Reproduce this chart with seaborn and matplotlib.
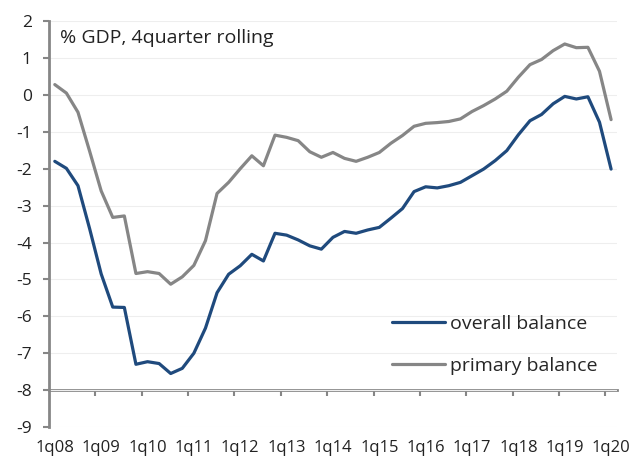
import numpy as np
import pandas as pd
import matplotlib
matplotlib.use("Agg")
import matplotlib.pyplot as plt
import seaborn as sns

# ---- data ----
year_labels = ["1q08", "1q09", "1q10", "1q11", "1q12", "1q13", "1q14",
               "1q15", "1q16", "1q17", "1q18", "1q19", "1q20"]
overall = [-1.80, -1.99, -2.46, -3.62, -4.85, -5.75, -5.76, -7.30, -7.23, -7.28,
           -7.55, -7.41, -7.00, -6.32, -5.36, -4.86, -4.63, -4.32, -4.50, -3.75,
           -3.80, -3.93, -4.09, -4.18, -3.86, -3.70, -3.75, -3.66, -3.59, -3.34,
           -3.08, -2.62, -2.49, -2.52, -2.46, -2.37, -2.19, -2.01, -1.78, -1.51,
           -1.08, -0.70, -0.53, -0.24, -0.04, -0.11, -0.05, -0.74, -2.01]
primary = [0.28, 0.05, -0.47, -1.52, -2.60, -3.32, -3.28, -4.84, -4.79, -4.84,
           -5.13, -4.93, -4.62, -3.95, -2.67, -2.37, -2.00, -1.65, -1.92, -1.09,
           -1.15, -1.24, -1.54, -1.69, -1.56, -1.72, -1.80, -1.69, -1.56, -1.31,
           -1.10, -0.85, -0.77, -0.75, -0.72, -0.65, -0.45, -0.29, -0.11, 0.10,
           0.48, 0.82, 0.96, 1.20, 1.38, 1.28, 1.29, 0.64, -0.67]
series_names = ["overall balance", "primary balance"]
y_ticks = list(range(-9, 3))
title_text = "% GDP, 4quarter rolling"

# ---- style ----
BLUE = "#1f4a7d"
GRAY = "#868686"
sns.set_theme(style="white")
plt.rcParams["font.family"] = ["Open Sans", "DejaVu Sans"]
plt.rcParams["axes.unicode_minus"] = False

n = len(overall)
q = np.arange(n)
df = pd.DataFrame({
    "q": np.concatenate([q, q]),
    "value": overall + primary,
    "series": [series_names[0]] * n + [series_names[1]] * n,
})

fig = plt.figure(figsize=(6.34, 4.59), dpi=100)
ax = fig.add_axes([0.0773, 0.0697, 0.8957, 0.8843])

sns.lineplot(data=df, x="q", y="value", hue="series", hue_order=series_names,
             palette=[BLUE, GRAY], linewidth=2.3, ax=ax)

ax.set_xlim(-0.5, n - 0.5)
ax.set_ylim(-9, 2)
ax.set_xlabel("")
ax.set_ylabel("")

ax.set_xticks(q[::4])
ax.set_xticklabels(year_labels, fontsize=12, color="#222222")
ax.tick_params(axis="x", length=0, pad=9)

ax.set_yticks(y_ticks)
ax.set_yticklabels([str(v) for v in y_ticks], fontsize=12.5, color="#222222")
ax.tick_params(axis="y", left=True, length=4.5, width=1.5, color=GRAY, pad=8)

for s in ["top", "right", "bottom"]:
    ax.spines[s].set_visible(False)
ax.spines["left"].set_color(GRAY)
ax.spines["left"].set_linewidth(2)

ax.yaxis.grid(True, color="#eeeeee", linewidth=0.8)
ax.xaxis.grid(False)
ax.set_axisbelow(True)

# category axis line at y = -8 with tick marks between year groups
secax = ax.secondary_xaxis(1.0 / 11.0)
secax.set_xticks(np.arange(3.5, n - 0.5, 4))
secax.tick_params(axis="x", direction="out", length=4.5, width=1.5,
                  color=GRAY, labelbottom=False, labeltop=False)
secax.spines["bottom"].set_color(GRAY)
secax.spines["bottom"].set_linewidth(2)

ax.text(0.019, 0.958, title_text, transform=ax.transAxes, ha="left",
        va="center", fontsize=14, color="#222222")

ax.legend(title=None, loc="center left", bbox_to_anchor=(0.604, 0.202),
          frameon=False, fontsize=14, handlelength=2.7, handletextpad=0.27,
          labelspacing=1.25, borderpad=0, borderaxespad=0)

fig.savefig("out.png", dpi=100)
